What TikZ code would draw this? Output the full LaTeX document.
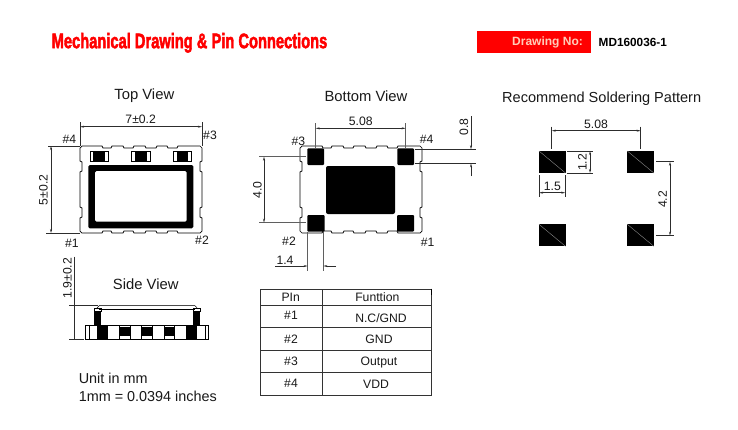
\documentclass[tikz,border=0pt]{standalone}
\usepackage{fontspec}
\usepackage{graphicx}
\setmainfont{Liberation Sans}
\usetikzlibrary{arrows.meta}
\definecolor{titlered}{RGB}{255,0,0}
\definecolor{peach}{RGB}{255,205,185}
\definecolor{linegray}{RGB}{45,45,45}
\definecolor{extgray}{RGB}{95,95,95}
\newcommand{\bodypath}{(2,0) -- (22,0) -- (23,2) -- (31,2) -- (32,0) -- (43,0) -- (44,2) -- (53,2) -- (54,0) -- (65,0) -- (66,2) -- (76,2) -- (77,0) -- (87,0) -- (88,2) -- (97,2) -- (98,0) -- (120,0) -- (122,2) -- (122,15) -- (120,16) -- (120,25) -- (122,26) -- (122,61) -- (120,62) -- (120,71) -- (122,72) -- (122,85) -- (120,87) -- (98,87) -- (97,85) -- (88,85) -- (87,87) -- (77,87) -- (76,85) -- (66,85) -- (65,87) -- (54,87) -- (53,85) -- (44,85) -- (43,87) -- (32,87) -- (31,85) -- (23,85) -- (22,87) -- (2,87) -- (0,85) -- (0,72) -- (2,71) -- (2,62) -- (0,61) -- (0,26) -- (2,25) -- (2,16) -- (0,15) -- (0,2) -- cycle}
\tikzset{
  x=1pt,y=-1pt,
  every node/.style={inner sep=0pt,outer sep=0pt,text=black!90},
  head/.style={font=\fontsize{14.8}{16}\selectfont},
  lab/.style={font=\fontsize{12.2}{14}\selectfont},
  tab/.style={font=\fontsize{12.2}{14}\selectfont},
  vlab/.style={font=\fontsize{12.2}{14}\selectfont,rotate=90},
  dim/.style={draw=linegray,line width=0.7pt,{Stealth[length=4pt,width=2pt]}-{Stealth[length=4pt,width=2pt]}},
  dimout/.style={draw=linegray,line width=0.7pt},
  ext/.style={draw=linegray,line width=0.6pt},
  extb/.style={draw=extgray,line width=0.9pt},
  outline/.style={draw=black,line width=0.7pt,fill=white},
  pad/.style={fill=black,draw=none},
  diag/.style={draw=black!45,line width=0.4pt},
  tline/.style={draw=black!80,line width=0.8pt},
}
\begin{document}
\begin{tikzpicture}
\useasboundingbox (0,0) rectangle (738,429);
\fill[white] (0,0) rectangle (738,429);

% header
\node[anchor=west,text=titlered] (title) at (51.7,42.8) {\resizebox{275.6pt}{\height}{\fontspec{Liberation Sans Bold}[FakeBold=2.6]\fontsize{21}{23}\selectfont Mechanical Drawing \& Pin Connections}};
\fill[titlered] (477.3,31) rectangle (590.7,52.7);
\node[text=peach,font=\bfseries\fontsize{12}{14}\selectfont] (drawno) at (547.5,42.3) {Drawing No:};
\node[text=black,font=\bfseries\fontsize{11.8}{14}\selectfont] (mdno) at (632.8,42.3) {MD160036-1};

% top view
\node[head] (topview) at (144.3,95.5) {Top View};
\begin{scope}[shift={(80,146)}]
  \draw[outline] \bodypath;
  \foreach \cx in {10,51.7,93.3}{
    \draw[black,line width=0.6pt,fill=white] (\cx,5.7) rectangle ++(18.3,9.3);
    \fill[black] (\cx+3.3,5.7) rectangle ++(11.7,9.3);
  }
  \fill[black,rounded corners=1.5pt] (8.3,19) rectangle (113.3,82.3);
  \fill[white,rounded corners=1.5pt] (15,25) rectangle (106.7,75.7);
\end{scope}
\draw[ext] (80,122) -- (80,146);
\draw[ext] (202,122) -- (202,146);
\draw[dim] (80,126.7) -- (202,126.7);
\node[lab] (d7) at (140.7,119) {7±0.2};
\draw[ext] (48,146) -- (80,146);
\draw[ext] (46,233) -- (80,233);
\draw[dim] (51,146) -- (51,233);
\node[vlab] (d5) at (43.5,190) {5±0.2};
\node[lab] (tp4) at (69.3,139.3) {\#4};
\node[lab] (tp3) at (210,135) {\#3};
\node[lab] (tp1) at (72,243) {\#1};
\node[lab] (tp2) at (202,240.5) {\#2};

% bottom view
\node[head] (bottomview) at (366,96) {Bottom View};
\begin{scope}[shift={(300,146)}]
  \draw[outline] \bodypath;
\end{scope}
\fill[pad,rounded corners=1pt] (307.3,148.3) rectangle (324,165);
\fill[pad,rounded corners=1pt] (397.3,148.3) rectangle (414,165);
\fill[pad,rounded corners=1pt] (307.3,215) rectangle (324.7,231.7);
\fill[pad,rounded corners=1pt] (397,215) rectangle (414,231.7);
\fill[pad,rounded corners=2pt] (326,166) rectangle (395,214);
\draw[extb] (315.7,123) -- (315.7,148);
\draw[extb] (405.7,123) -- (405.7,148);
\draw[dim] (315.7,128.3) -- (405.7,128.3);
\node[lab] (b508) at (360.7,121.7) {5.08};
\draw[ext] (415,149.3) -- (476,149.3);
\draw[ext] (415,163.3) -- (476,163.3);
\draw[dimout,-{Stealth[length=4pt,width=2pt]}] (471,116) -- (471,149.3);
\draw[dimout,-{Stealth[length=4pt,width=2pt]}] (471,176) -- (471,163.3);
\node[vlab] (b08) at (464,126.7) {0.8};
\draw[extb] (259,156.7) -- (306,156.7);
\draw[extb] (259,222.7) -- (306,222.7);
\draw[dim] (264,156.7) -- (264,222.7);
\node[vlab] (b40) at (257.5,190) {4.0};
\node[lab] (bp3) at (298.3,141.7) {\#3};
\node[lab] (bp4) at (426.7,139.3) {\#4};
\node[lab] (bp2) at (289,241.7) {\#2};
\node[lab] (bp1) at (427.7,242.7) {\#1};
\draw[extb] (307.7,232) -- (307.7,270.7);
\draw[extb] (323.3,232) -- (323.3,270.7);
\draw[dimout,-{Stealth[length=4pt,width=2pt]}] (275,266) -- (307.7,266);
\draw[dimout,-{Stealth[length=4pt,width=2pt]}] (336,266) -- (323.3,266);
\node[lab] (b14) at (285,260) {1.4};

% soldering pattern
\node[font=\fontsize{14.55}{16}\selectfont] (pattern) at (601.7,99) {Recommend Soldering Pattern};
\foreach \px/\py in {539/151,627.3/151,539/224.3,627.3/224.3}{
  \fill[pad] (\px,\py) rectangle ++(26.5,22);
  \draw[diag] (\px,\py) -- ++(26.5,22);
}
\draw[ext] (551.7,126.7) -- (551.7,149);
\draw[ext] (640.7,126.7) -- (640.7,149);
\draw[dim] (551.7,130.7) -- (640.7,130.7);
\node[lab] (s508) at (596,124) {5.08};
\draw[ext] (567.3,151) -- (593.3,151);
\draw[ext] (567.3,173) -- (593.3,173);
\draw[dim] (590,151) -- (590,173);
\node[vlab] (s12) at (582.3,162.3) {1.2};
\draw[ext] (539,175) -- (539,196.7);
\draw[ext] (565.3,175) -- (565.3,196.7);
\draw[dim] (539,192.7) -- (565.3,192.7);
\node[lab] (s15) at (552.3,186) {1.5};
\draw[ext] (656,161.7) -- (674,161.7);
\draw[ext] (656,235.7) -- (674,235.7);
\draw[dim] (670,161.7) -- (670,235.7);
\node[vlab] (s42) at (662.7,199.3) {4.2};

% side view
\node[head] (sideview) at (145.7,284) {Side View};
\node[vlab] (d19) at (67.3,278.3) {1.9±0.2};
\draw[ext] (74,256.7) -- (74,339.3);
\draw[ext] (69.3,305.7) -- (98.3,305.7);
\draw[ext] (69.3,339) -- (84,339);
\draw[black!70,line width=0.8pt] (99.3,305.7) -- (195,305.7);
\draw[black,line width=0.7pt] (99.3,309) -- (195,309);
\draw[black,line width=0.5pt] (99.3,305.7) -- (96,309);
\draw[black,line width=0.5pt] (195,305.7) -- (198,309);
\fill[black] (94.3,311.7) rectangle (101,325);
\fill[black] (193.3,311.7) rectangle (200,325);
\draw[black,line width=0.5pt] (94.3,308.7) rectangle (101,311.7);
\draw[black,line width=0.5pt] (193.3,308.7) rectangle (200,311.7);
\draw[black,line width=0.7pt,fill=white] (85,325) rectangle (208.3,339.3);
\draw[black,line width=0.6pt] (89,325) -- (89,339.3);
\draw[black,line width=0.6pt] (205,325) -- (205,339.3);
\fill[black] (97.3,325) rectangle (107.7,339.3);
\fill[black] (186,325) rectangle (196.7,339.3);
\foreach \bx in {119.3,141.7,164}{
  \draw[black,line width=0.6pt] (\bx,325) rectangle ++(10.5,14.3);
  \fill[black] (\bx,327.3) rectangle ++(10.5,8.7);
}
\node[head,anchor=west,font=\fontsize{14.4}{16}\selectfont] (unit1) at (78.8,378.3) {Unit in mm};
\node[head,anchor=west,font=\fontsize{14.4}{16}\selectfont] (unit2) at (78.8,396) {1mm = 0.0394 inches};

% table
\foreach \ty in {289,305,327.7,350.3,372.7,395.3}{
  \draw[tline] (260,\ty) -- (431.7,\ty);
}
\draw[tline] (260,289) -- (260,395.3);
\draw[tline] (322.3,289) -- (322.3,395.3);
\draw[tline] (431.7,295) -- (431.7,395.3);
\draw[black,line width=1.2pt] (431.7,288.6) -- (431.7,295);
\node[tab] (hpin) at (290.7,297) {PIn};
\node[tab] (hfun) at (377.3,297.3) {Funttion};
\node[tab] (r1a) at (291,315) {\#1};
\node[tab] (r1b) at (381,318.3) {N.C/GND};
\node[tab] (r2a) at (291,339) {\#2};
\node[tab] (r2b) at (379,339) {GND};
\node[tab] (r3a) at (291,361) {\#3};
\node[tab] (r3b) at (379,362.5) {Output};
\node[tab] (r4a) at (291,383) {\#4};
\node[tab] (r4b) at (376,384) {VDD};
\end{tikzpicture}
\end{document}
